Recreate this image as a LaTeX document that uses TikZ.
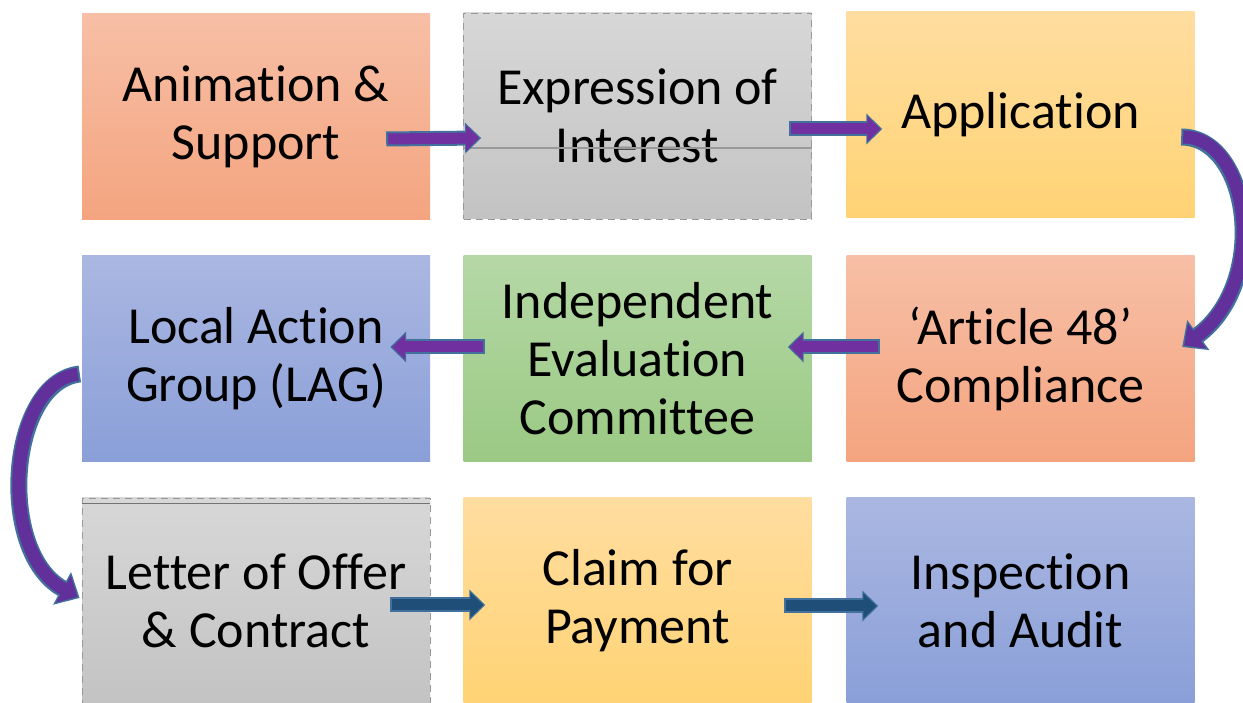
\documentclass[tikz,border=0pt]{standalone}
\usepackage{fontspec}
\setmainfont{Carlito}[Ligatures=NoCommon]
\usetikzlibrary{arrows.meta}
\newcommand\myti{t\kern0pt i}
\definecolor{salT}{HTML}{F7BFA6}\definecolor{salB}{HTML}{F4A47F}
\definecolor{gryT}{HTML}{D7D7D7}\definecolor{gryB}{HTML}{C3C3C3}
\definecolor{yelT}{HTML}{FFDDA0}\definecolor{yelB}{HTML}{FFD374}
\definecolor{bluT}{HTML}{AAB7E1}\definecolor{bluB}{HTML}{8A9FD8}
\definecolor{grnT}{HTML}{B5D8A6}\definecolor{grnB}{HTML}{9BC984}
\definecolor{purp}{HTML}{7030A0}
\definecolor{dpurp}{HTML}{62309A}
\definecolor{navy}{HTML}{1F4E79}
\definecolor{outl}{HTML}{41719C}
\tikzset{
  box/.style={minimum width=348pt, minimum height=206pt, inner sep=0pt, align=center,
    font=\fontsize{52}{58}\selectfont},
  salbox/.style={box, top color=salT, bottom color=salB},
  grybox/.style={box, top color=gryT, bottom color=gryB, draw=black!40, line width=0.8pt, dash pattern=on 7pt off 5pt},
  yelbox/.style={box, top color=yelT, bottom color=yelB},
  blubox/.style={box, top color=bluT, bottom color=bluB},
  grnbox/.style={box, top color=grnT, bottom color=grnB},
  arrout/.style={line width=15pt, draw=outl, -{Triangle[width=30pt,length=16pt]}},
  arrin/.style={line width=11pt, -{Triangle[width=25pt,length=13pt]}, shorten >=2pt, shorten <=2pt},
  carrout/.style={line width=17pt, draw=outl, -{Triangle[width=36pt,length=20pt]}},
  carrin/.style={line width=13pt, -{Triangle[width=30pt,length=16pt]}, shorten >=2.5pt, shorten <=2pt},
}
\begin{document}
\begin{tikzpicture}[x=1pt,y=1pt]
\useasboundingbox (0,0) rectangle (1243,702);
\fill[white] (0,0) rectangle (1243,702);
% row 1
\node[salbox] (anim) at (256,585) {Anima\myti on \&\\Support};
\node[grybox] (eoi) at (637.5,586) {Expression of\\Interest};
\draw[black!40, line width=1.2pt] ([yshift=-32pt]eoi.west) -- ([yshift=-32pt]eoi.east);
\node[yelbox] (app) at (1020.5,587) {Applica\myti on};
% row 2
\node[blubox] (lag) at (256,343) {Local Ac\myti on\\Group (LAG)};
\node[grnbox] (iec) at (637.5,343) {Independent\\Evalua\myti on\\Commit\kern0pt tee};
\node[salbox] (art) at (1020.5,343) {‘Ar\myti cle 48’\\Compliance};
% row 3
\node[grybox] (loc) at (256,101) {Letter of Offer\\\& Contract};
\draw[black!55, line width=1.8pt] ([yshift=-6pt]loc.north west) -- ([yshift=-6pt]loc.north east);
\node[yelbox] (claim) at (637.5,101) {Claim for\\Payment};
\node[blubox] (insp) at (1020.5,101) {Inspec\myti on\\and Audit};
% straight arrows
\draw[arrout] ([xshift=-44pt,yshift=-22pt]anim.east) -- ([xshift=18pt,yshift=-22pt]eoi.west);
\draw[arrin,draw=purp] ([xshift=-44pt,yshift=-22pt]anim.east) -- ([xshift=18pt,yshift=-22pt]eoi.west);
\draw[arrout] ([xshift=-23pt,yshift=-13pt]eoi.east) -- ([xshift=36pt,yshift=-14pt]app.west);
\draw[arrin,draw=purp] ([xshift=-23pt,yshift=-13pt]eoi.east) -- ([xshift=36pt,yshift=-14pt]app.west);
\draw[arrout] ([xshift=34pt,yshift=12pt]art.west) -- ([xshift=-24pt,yshift=12pt]iec.east);
\draw[arrin,draw=purp] ([xshift=34pt,yshift=12pt]art.west) -- ([xshift=-24pt,yshift=12pt]iec.east);
\draw[arrout] ([xshift=22pt,yshift=12pt]iec.west) -- ([xshift=-40pt,yshift=12pt]lag.east);
\draw[arrin,draw=purp] ([xshift=22pt,yshift=12pt]iec.west) -- ([xshift=-40pt,yshift=12pt]lag.east);
\draw[arrout] ([xshift=-40pt,yshift=-4pt]loc.east) -- ([xshift=22pt,yshift=-4pt]claim.west);
\draw[arrin,draw=navy] ([xshift=-40pt,yshift=-4pt]loc.east) -- ([xshift=22pt,yshift=-4pt]claim.west);
\draw[arrout] ([xshift=-28pt,yshift=-5pt]claim.east) -- ([xshift=32pt,yshift=-5pt]insp.west);
\draw[arrin,draw=navy] ([xshift=-28pt,yshift=-5pt]claim.east) -- ([xshift=32pt,yshift=-5pt]insp.west);
% curved arrows
\draw[carrout] ([xshift=-13.5pt,yshift=-22pt]app.east) .. controls (1250,565) and (1270,420) .. ([xshift=-12.5pt,yshift=12pt]art.east);
\draw[carrin,draw=dpurp] ([xshift=-13.5pt,yshift=-22pt]app.east) .. controls (1250,565) and (1270,420) .. ([xshift=-12.5pt,yshift=12pt]art.east);
\draw[carrout] ([xshift=-2pt,yshift=-15pt]lag.west) .. controls (8,320) and (-4,150) .. ([xshift=-2pt,yshift=3pt]loc.west);
\draw[carrin,draw=dpurp] ([xshift=-2pt,yshift=-15pt]lag.west) .. controls (8,320) and (-4,150) .. ([xshift=-2pt,yshift=3pt]loc.west);
\end{tikzpicture}
\end{document}
